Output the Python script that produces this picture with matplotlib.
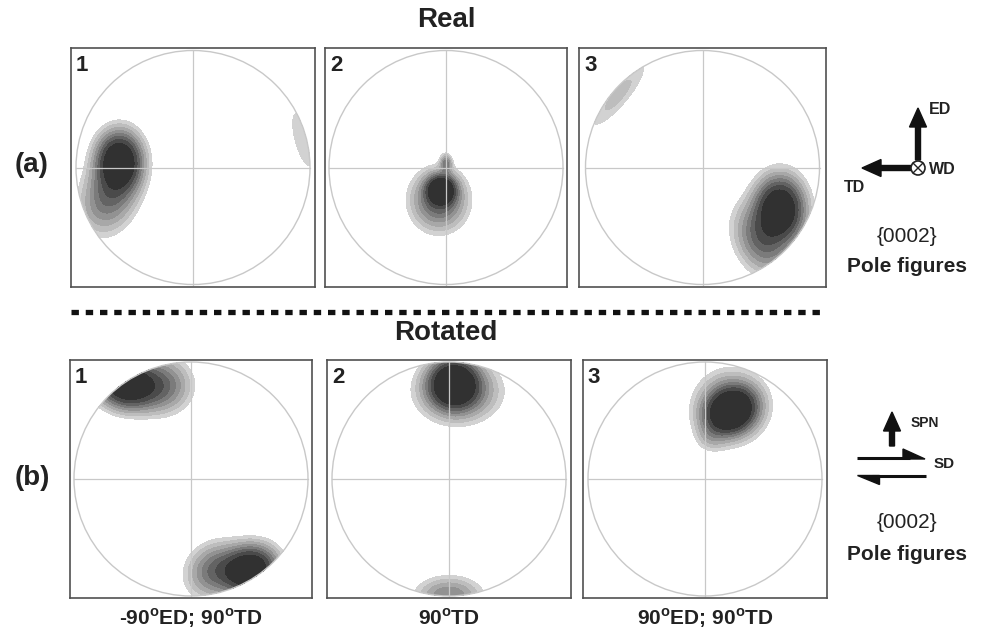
import numpy as np
import matplotlib.pyplot as plt
from matplotlib.patches import Circle, FancyArrow, Polygon

plt.rcParams['font.family'] = ['Liberation Sans', 'DejaVu Sans']
plt.rcParams['font.weight'] = 'bold'
plt.rcParams['mathtext.fontset'] = 'custom'
plt.rcParams['mathtext.bf'] = 'Liberation Sans:bold'
plt.rcParams['mathtext.rm'] = 'Liberation Sans:bold'

W, H = 991, 635
R_PX = 117  # circle radius in pixels

# panel boxes in pixels: left, top, right, bottom
top_boxes = [(71, 48, 315, 287), (325, 48, 567, 287), (579, 48, 826, 287)]
bot_boxes = [(70, 360, 312, 598), (327, 360, 571, 598), (583, 360, 827, 598)]
bot_labels = [r'-90$^{\mathrm{o}}$ED; 90$^{\mathrm{o}}$TD', r'90$^{\mathrm{o}}$TD',
              r'90$^{\mathrm{o}}$ED; 90$^{\mathrm{o}}$TD']

# texture components per panel: x, y, su, sv, angle(deg), amplitude (unit circle coords)
real_1 = [(-0.63, 0.05, 0.115, 0.15, 0, 1.0),
          (-0.72, -0.25, 0.14, 0.19, -20, 0.36),
          (0.94, 0.24, 0.07, 0.24, 15, 0.095)]
real_2 = [(-0.04, -0.19, 0.07, 0.07, 0, 1.0),
          (-0.06, -0.28, 0.14, 0.15, 0, 0.45),
          (0.0, 0.03, 0.03, 0.05, 0, 0.3)]
real_3 = [(0.66, -0.36, 0.125, 0.165, 0, 1.0),
          (0.50, -0.62, 0.13, 0.19, 25, 0.35),
          (-0.72, 0.62, 0.27, 0.07, 50, 0.12)]
rot_1 = [(-0.55, 0.81, 0.15, 0.12, -10, 1.0),
         (-0.25, 0.80, 0.15, 0.14, 0, 0.35),
         (0.50, -0.78, 0.14, 0.12, 20, 1.0),
         (0.20, -0.78, 0.15, 0.13, 40, 0.35)]
rot_2 = [(0.04, 0.82, 0.12, 0.12, 0, 1.0),
         (0.08, 0.75, 0.20, 0.15, 0, 0.40),
         (0.0, -1.0, 0.17, 0.10, 0, 0.28)]
rot_3 = [(0.22, 0.58, 0.13, 0.105, 30, 1.0),
         (0.22, 0.62, 0.17, 0.17, 0, 0.40),
         (0.05, 0.36, 0.08, 0.08, 0, 0.10)]

levels = [0.06, 0.1, 0.15, 0.21, 0.28, 0.36, 0.46, 0.6, 5.0]
shades = ['#d2d2d2', '#bdbdbd', '#a8a8a8', '#929292', '#7b7b7b',
          '#636363', '#4a4a4a', '#313131', '#000000']


def density(blobs, X, Y):
    Z = np.zeros_like(X)
    for x0, y0, su, sv, ang, amp in blobs:
        a = np.radians(ang)
        u = (X - x0) * np.cos(a) + (Y - y0) * np.sin(a)
        v = -(X - x0) * np.sin(a) + (Y - y0) * np.cos(a)
        Z += amp * np.exp(-(u ** 2 / (2 * su ** 2) + v ** 2 / (2 * sv ** 2)))
    return Z


def pole_figure(box, blobs, num):
    l, t, r, b = box
    ax = fig.add_axes([l / W, 1 - b / H, (r - l) / W, (b - t) / H])
    hx = (r - l) / 2 / R_PX
    hy = (b - t) / 2 / R_PX
    g = np.linspace(-1, 1, 500)
    X, Y = np.meshgrid(g, g)
    Z = density(blobs, X, Y)
    Z = np.ma.masked_where(X ** 2 + Y ** 2 > 1, Z)
    ax.contourf(X, Y, Z, levels=levels, colors=shades)
    ax.add_patch(Circle((0, 0), 1, fill=False, ec='#c8c8c8', lw=1.0))
    ax.plot([-1, 1], [0, 0], color='#c8c8c8', lw=0.9)
    ax.plot([0, 0], [-1, 1], color='#c8c8c8', lw=0.9)
    ax.set_xlim(-hx, hx)
    ax.set_ylim(-hy, hy)
    ax.set_xticks([])
    ax.set_yticks([])
    for s in ax.spines.values():
        s.set_color('#505050')
        s.set_linewidth(1.2)
    ax.text(0.02, 0.97, str(num), transform=ax.transAxes, ha='left', va='top',
            fontsize=16, fontweight='bold', color='#222222')
    return ax


fig = plt.figure(figsize=(W / 100, H / 100), dpi=100)

# overlay in pixel coordinates for texts and arrows
ov = fig.add_axes([0, 0, 1, 1])
ov.set_xlim(0, W)
ov.set_ylim(H, 0)
ov.axis('off')

for i, (box, blobs) in enumerate(zip(top_boxes, [real_1, real_2, real_3])):
    pole_figure(box, blobs, i + 1)
for i, (box, blobs) in enumerate(zip(bot_boxes, [rot_1, rot_2, rot_3])):
    pole_figure(box, blobs, i + 1)
    cx = (box[0] + box[2]) / 2
    ov.text(cx, 618, bot_labels[i], ha='center', va='center', fontsize=15,
            fontweight='bold', color='#222222')

ov.text(446, 20, 'Real', ha='center', va='center', fontsize=20, fontweight='bold', color='#222222')
ov.text(446, 333, 'Rotated', ha='center', va='center', fontsize=20, fontweight='bold', color='#222222')
ov.text(32, 165, '(a)', ha='center', va='center', fontsize=20, fontweight='bold', color='#222222')
ov.text(32, 478, '(b)', ha='center', va='center', fontsize=20, fontweight='bold', color='#222222')

# dotted separator
ov.plot([71, 820], [312, 312], color='#111111', lw=3.8, ls=(0, (1.4, 1.3)),
        solid_capstyle='butt', dash_capstyle='butt')

# (a) axes symbol: ED up, TD left, WD into page
ov.add_patch(FancyArrow(918, 160, 0, -33, width=5, head_width=17, head_length=19,
                        length_includes_head=False, color='#111111'))
ov.add_patch(FancyArrow(911, 168, -30, 0, width=5, head_width=17, head_length=19,
                        length_includes_head=False, color='#111111'))
ov.add_patch(Circle((918, 168), 7, fc='white', ec='#222222', lw=1.2, zorder=3))
d = 7 / np.sqrt(2)
ov.plot([918 - d, 918 + d], [168 - d, 168 + d], color='#222222', lw=1.0, zorder=4)
ov.plot([918 - d, 918 + d], [168 + d, 168 - d], color='#222222', lw=1.0, zorder=4)
ov.text(929, 110, 'ED', ha='left', va='center', fontsize=11.5, fontweight='bold', color='#222222')
ov.text(929, 169, 'WD', ha='left', va='center', fontsize=11.5, fontweight='bold', color='#222222')
ov.text(855, 188, 'TD', ha='center', va='center', fontsize=11.5, fontweight='bold', color='#222222')
ov.text(907, 237, '{0002}', ha='center', va='center', fontsize=15, fontweight='normal', color='#222222')
ov.text(907, 267, 'Pole figures', ha='center', va='center', fontsize=15, color='#222222')

# (b) axes symbol: SPN up, shear along SD
ov.add_patch(FancyArrow(892, 446, 0, -15, width=5, head_width=17, head_length=19,
                        length_includes_head=False, color='#111111'))
ov.plot([857, 910], [458, 458], color='#111111', lw=2.2, solid_capstyle='butt')
ov.add_patch(Polygon([(925, 459), (903, 449), (903, 459)], closed=True, color='#111111'))
ov.plot([872, 926], [476, 476], color='#111111', lw=2.2, solid_capstyle='butt')
ov.add_patch(Polygon([(857, 475), (879, 475), (879, 484)], closed=True, color='#111111'))
ov.text(911, 423, 'SPN', ha='left', va='center', fontsize=10, fontweight='bold', color='#222222')
ov.text(934, 464, 'SD', ha='left', va='center', fontsize=11, fontweight='bold', color='#222222')
ov.text(907, 523, '{0002}', ha='center', va='center', fontsize=15, fontweight='normal', color='#222222')
ov.text(907, 554, 'Pole figures', ha='center', va='center', fontsize=15, color='#222222')

fig.savefig('out.png', dpi=100)
